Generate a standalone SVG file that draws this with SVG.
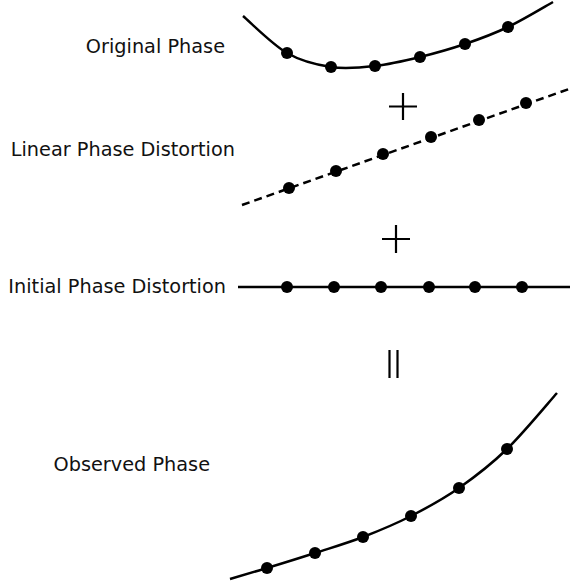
<svg xmlns="http://www.w3.org/2000/svg" width="570" height="588" viewBox="0 0 570 588">
<style>
.lbl{font-family:"DejaVu Sans",Verdana,sans-serif;font-size:19.3px;fill:#111;text-anchor:end}
.crv{fill:none;stroke:#000;stroke-width:2.5}
.dash{stroke-dasharray:8 5}
.dot{fill:#000}
.op{stroke:#000;stroke-width:2.2;fill:none}
</style>
<rect width="570" height="588" fill="#fff"/>
<g id="original">
<text class="lbl" x="225" y="53">Original Phase</text>
<path class="crv" d="M243,16 C250.3,22.2 272.3,44.5 287,53 C301.7,61.5 316.3,64.8 331,67 C345.7,69.2 360.2,67.7 375,66 C389.8,64.3 405,60.7 420,57 C435,53.3 450.3,49 465,44 C479.7,39 493.3,34 508,27 C522.7,20 545.5,6.2 553,2"/>
<circle class="dot" cx="287" cy="53" r="6"/><circle class="dot" cx="331" cy="67" r="6"/><circle class="dot" cx="375" cy="66" r="6"/><circle class="dot" cx="420" cy="57" r="6"/><circle class="dot" cx="465" cy="44" r="6"/><circle class="dot" cx="508" cy="27" r="6"/>
</g>
<g id="plus1"><path class="op" d="M389,106.5 H417 M403,93 V120"/></g>
<g id="linear">
<text class="lbl" x="235" y="155.5">Linear Phase Distortion</text>
<path class="crv dash" d="M242,205 L569,89"/>
<circle class="dot" cx="289" cy="188" r="6"/><circle class="dot" cx="336" cy="171" r="6"/><circle class="dot" cx="383" cy="154" r="6"/><circle class="dot" cx="431" cy="137" r="6"/><circle class="dot" cx="479" cy="120" r="6"/><circle class="dot" cx="526" cy="103" r="6"/>
</g>
<g id="plus2"><path class="op" d="M382,239 H410 M396,225 V253"/></g>
<g id="initial">
<text class="lbl" x="226" y="293">Initial Phase Distortion</text>
<path class="crv" d="M238,287 L570,287"/>
<circle class="dot" cx="287" cy="287" r="6"/><circle class="dot" cx="334" cy="287" r="6"/><circle class="dot" cx="381" cy="287" r="6"/><circle class="dot" cx="429" cy="287" r="6"/><circle class="dot" cx="475" cy="287" r="6"/><circle class="dot" cx="522" cy="287" r="6"/>
</g>
<g id="equals"><path class="op" d="M389.5,350 V378 M397.5,350 V378" stroke-width="2.5"/></g>
<g id="observed">
<text class="lbl" x="210" y="471">Observed Phase</text>
<path class="crv" d="M230,579 C236.2,577.2 252.8,572.3 267,568 C281.2,563.7 299,558.2 315,553 C331,547.8 347,543.2 363,537 C379,530.8 395,524.2 411,516 C427,507.8 443,499.2 459,488 C475,476.8 490.7,464.8 507,449 C523.3,433.2 548.7,402.3 557,393"/>
<circle class="dot" cx="267" cy="568" r="6"/><circle class="dot" cx="315" cy="553" r="6"/><circle class="dot" cx="363" cy="537" r="6"/><circle class="dot" cx="411" cy="516" r="6"/><circle class="dot" cx="459" cy="488" r="6"/><circle class="dot" cx="507" cy="449" r="6"/>
</g>
</svg>
